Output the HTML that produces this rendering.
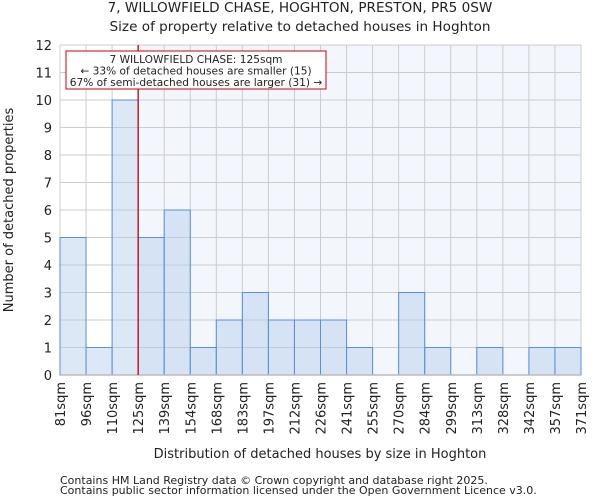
<!DOCTYPE html>
<html><head><meta charset="utf-8"><style>
body{margin:0;background:#fff;font-family:"DejaVu Sans","Liberation Sans",sans-serif;}
svg text{font-family:"DejaVu Sans","Liberation Sans",sans-serif;fill:#222;}
</style></head><body>
<svg id="chart" width="600" height="500" xmlns="http://www.w3.org/2000/svg">
<text x="300" y="12" text-anchor="middle" font-size="13.6">7, WILLOWFIELD CHASE, HOGHTON, PRESTON, PR5 0SW</text>
<text x="300" y="31" text-anchor="middle" font-size="13.6">Size of property relative to detached houses in Hoghton</text>
<g id="plot"></g>
<text x="320" y="458" text-anchor="middle" font-size="13">Distribution of detached houses by size in Hoghton</text>
<text transform="translate(13,210) rotate(-90)" text-anchor="middle" font-size="13">Number of detached properties</text>
<text x="60" y="484" font-size="11" fill="#444">Contains HM Land Registry data © Crown copyright and database right 2025.</text>
<text x="60" y="494" font-size="11" fill="#444">Contains public sector information licensed under the Open Government Licence v3.0.</text>
</svg>
<script>
const tickLabels=["81sqm","96sqm","110sqm","125sqm","139sqm","154sqm","168sqm","183sqm","197sqm","212sqm","226sqm","241sqm","255sqm","270sqm","284sqm","299sqm","313sqm","328sqm","342sqm","357sqm","371sqm"];
const counts=[5,1,10,5,6,1,2,3,2,2,2,1,0,3,1,0,1,0,1,1];
const yTicks=[0,1,2,3,4,5,6,7,8,9,10,11,12];
const markerBin=3;
const NS="http://www.w3.org/2000/svg";
const L=60,R=581,T=45,B=375,yMax=12;
const bw=(R-L)/counts.length;
const x=i=>L+i*bw;
const y=v=>B-(v/yMax)*(B-T);
const g=document.getElementById('plot');
function mk(t,a){const e=document.createElementNS(NS,t);for(const k in a)e.setAttribute(k,a[k]);g.appendChild(e);return e;}
let e=mk('rect',{x:L,y:T,width:R-L,height:B-T,fill:'#fff'});


e=mk('rect',{x:x(markerBin),y:T,width:R-x(markerBin),height:B-T,fill:'#f3f6fd'});


yTicks.forEach(v=>{
 e=mk('line',{x1:L,x2:R,y1:y(v),y2:y(v),stroke:'#ccc','stroke-width':1});
 
 
 e=mk('text',{x:L-8,y:y(v)+5,'text-anchor':'end','font-size':13});
 e.textContent=v;
 
 
});
tickLabels.forEach((t,i)=>{
 e=mk('line',{x1:x(i),x2:x(i),y1:T,y2:B,stroke:'#ccc','stroke-width':1});
 
 
 e=mk('text',{transform:`translate(${x(i)+5},382) rotate(-90)`,'text-anchor':'end','font-size':13});
 e.textContent=t;
 
 
});
counts.forEach((c,i)=>{
 if(c<=0)return;
 e=mk('rect',{x:x(i),y:y(c),width:bw,height:B-y(c),fill:'rgba(180,203,235,0.45)',stroke:'#5b8fd6','stroke-width':1});
 
 
});
e=mk('line',{x1:L,x2:R,y1:B,y2:B,stroke:'#bbb','stroke-width':1.5});


e=mk('line',{x1:x(markerBin),x2:x(markerBin),y1:T,y2:B,stroke:'#c00','stroke-width':1.3});


e=mk('rect',{x:66,y:51,width:260,height:38,fill:'#fff',stroke:'#c00','stroke-width':1});


["7 WILLOWFIELD CHASE: 125sqm","← 33% of detached houses are smaller (15)","67% of semi-detached houses are larger (31) →"].forEach((t,i)=>{
 e=mk('text',{x:196,y:63+i*11.5,'text-anchor':'middle','font-size':10.6});
 e.textContent=t;
 
 
});
</script>
</body></html>
